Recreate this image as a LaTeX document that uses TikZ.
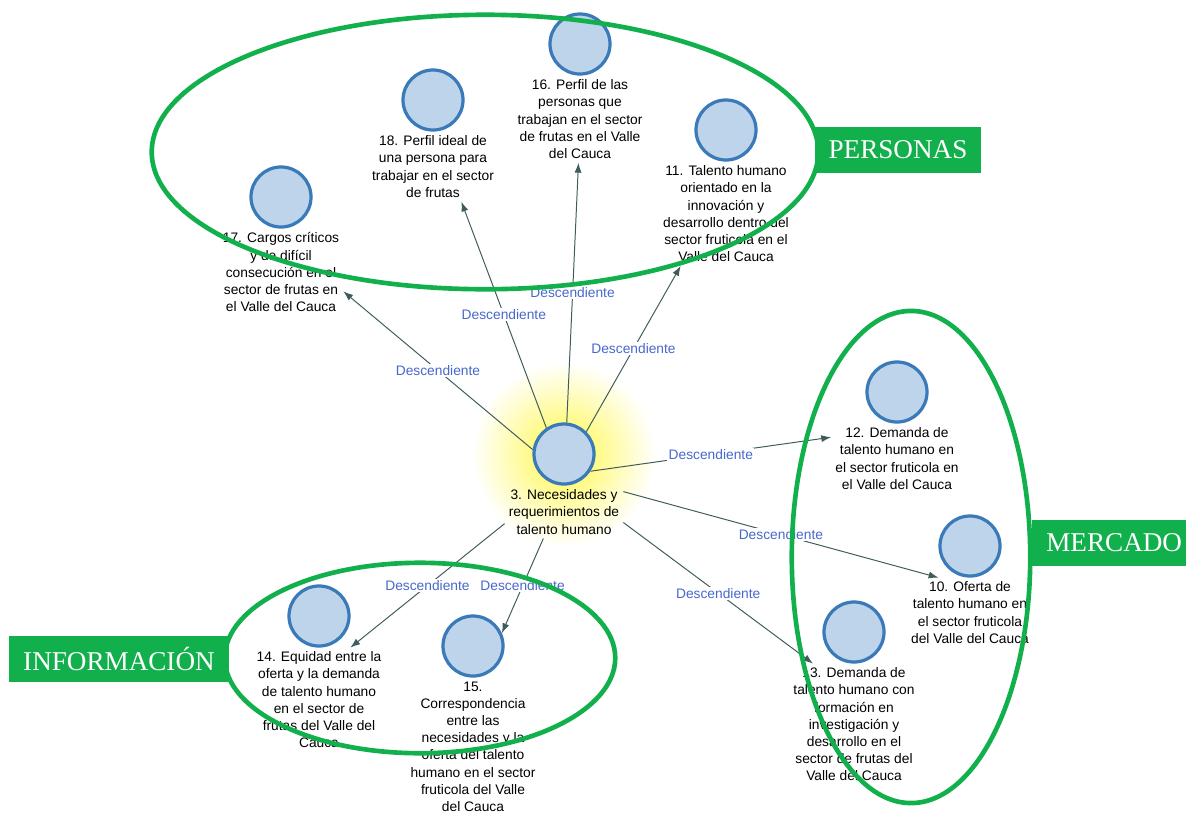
\documentclass[tikz,border=0pt]{standalone}
\usepackage{fontspec}
\setmainfont{Liberation Sans}
\newfontfamily\tagfont{Liberation Serif}
\usepackage{tikz}
\usetikzlibrary{arrows.meta, positioning, calc}
\definecolor{grn}{RGB}{18,176,76}
\definecolor{cfill}{RGB}{190,212,234}
\definecolor{cline}{RGB}{58,122,184}
\definecolor{edgec}{RGB}{62,92,92}
\definecolor{lblue}{RGB}{72,104,204}
\definecolor{glow}{RGB}{255,248,70}
\tikzset{
  cnode/.style ={circle, draw=cline, fill=cfill, line width=2.3pt, minimum size=1.5cm, inner sep=0pt},
  ntxt/.style  ={align=center, inner sep=0pt, outer sep=3pt, font=\fontsize{9.8}{12.2}\selectfont},
  tag/.style   ={rectangle, fill=grn, text=white, font=\tagfont\fontsize{19.3}{20}\selectfont, inner xsep=10pt, minimum height=33pt},
  grp/.style   ={draw=grn, line width=3.3pt},
  fl/.style    ={draw=edgec, line width=0.7pt, -{Latex[length=7pt, width=5pt]}},
  lbl/.style   ={font=\fontsize{9.8}{12}\selectfont, text=lblue, fill=white, inner sep=1pt},
}
\begin{document}
\begin{tikzpicture}[x=0.025cm, y=-0.025cm]
  \useasboundingbox (0,0) rectangle (1186,817);
  % halo del concepto central
  \shade[inner color=glow, outer color=white] (564,454) circle (2.3cm);

  % conceptos
  \node[cnode] (c3) at (564,454) {};
  \node[ntxt, below=0pt of c3] (t3) {3. Necesidades y\\requerimientos de\\talento humano};
  \node[cnode] (c17) at (281,197) {};
  \node[ntxt, below=0pt of c17] (t17) {17. Cargos críticos\\y de difícil\\consecución en el\\sector de frutas en\\el Valle del Cauca};
  \node[cnode] (c18) at (433,100) {};
  \node[ntxt, below=0pt of c18] (t18) {18. Perfil ideal de\\una persona para\\trabajar en el sector\\de frutas};
  \node[cnode] (c16) at (580,44) {};
  \node[ntxt, below=0pt of c16] (t16) {16. Perfil de las\\personas que\\trabajan en el sector\\de frutas en el Valle\\del Cauca};
  \node[cnode] (c11) at (726,130) {};
  \node[ntxt, below=0pt of c11] (t11) {11. Talento humano\\orientado en la\\innovación y\\desarrollo dentro del\\sector fruticola en el\\Valle del Cauca};
  \node[cnode] (c12) at (897,392) {};
  \node[ntxt, below=0pt of c12] (t12) {12. Demanda de\\talento humano en\\el sector fruticola en\\el Valle del Cauca};
  \node[cnode] (c10) at (970,546) {};
  \node[ntxt, below=0pt of c10] (t10) {10. Oferta de\\talento humano en\\el sector fruticola\\del Valle del Cauca};
  \node[cnode] (c13) at (854,632) {};
  \node[ntxt, below=0pt of c13] (t13) {13. Demanda de\\talento humano con\\formación en\\investigación y\\desarrollo en el\\sector de frutas del\\Valle del Cauca};
  \node[cnode] (c14) at (319,616) {};
  \node[ntxt, below=0pt of c14] (t14) {14. Equidad entre la\\oferta y la demanda\\de talento humano\\en el sector de\\frutas del Valle del\\Cauca};
  \node[cnode] (c15) at (473,646) {};
  \node[ntxt, below=0pt of c15] (t15) {15.\\Correspondencia\\entre las\\necesidades y la\\oferta del talento\\humano en el sector\\fruticola del Valle\\del Cauca};

  % relaciones
  \draw[fl] (c3.172) -- node[lbl]{Descendiente} (t17.-17);
  \draw[fl] (c3.124) -- node[lbl]{Descendiente} (t18.-51);
  \draw[fl] (c3.85)  -- node[lbl]{Descendiente} (t16.-92);
  \draw[fl] (c3.45)  -- node[lbl]{Descendiente} (t11.229);
  \draw[fl] (c3.-33) -- node[lbl]{Descendiente} (t12.162);
  \draw[fl] (t3.19)  -- node[lbl]{Descendiente} (t10.132);
  \draw[fl] (t3.-10) -- node[lbl]{Descendiente} (t13.124);
  \draw[fl] (t3.191) -- node[lbl]{Descendiente} (t14.59);
  \draw[fl] (t3.232) -- node[lbl]{Descendiente} (c15.24);

  % etiquetas de grupo
  \node[tag] (pers) at (898,150) {PERSONAS};
  \node[tag, anchor=west] (merc) at (1032,543) {MERCADO};
  \node[tag] (info) at (119,659) {INFORMACIÓN};

  % agrupaciones
  \draw[grp] (485,152) ellipse [x radius=8.33cm, y radius=3.43cm];
  \draw[grp] (911,557) ellipse [x radius=2.98cm, y radius=6.15cm];
  \draw[grp] (420,658) ellipse [x radius=4.88cm, y radius=2.38cm];
\end{tikzpicture}
\end{document}
